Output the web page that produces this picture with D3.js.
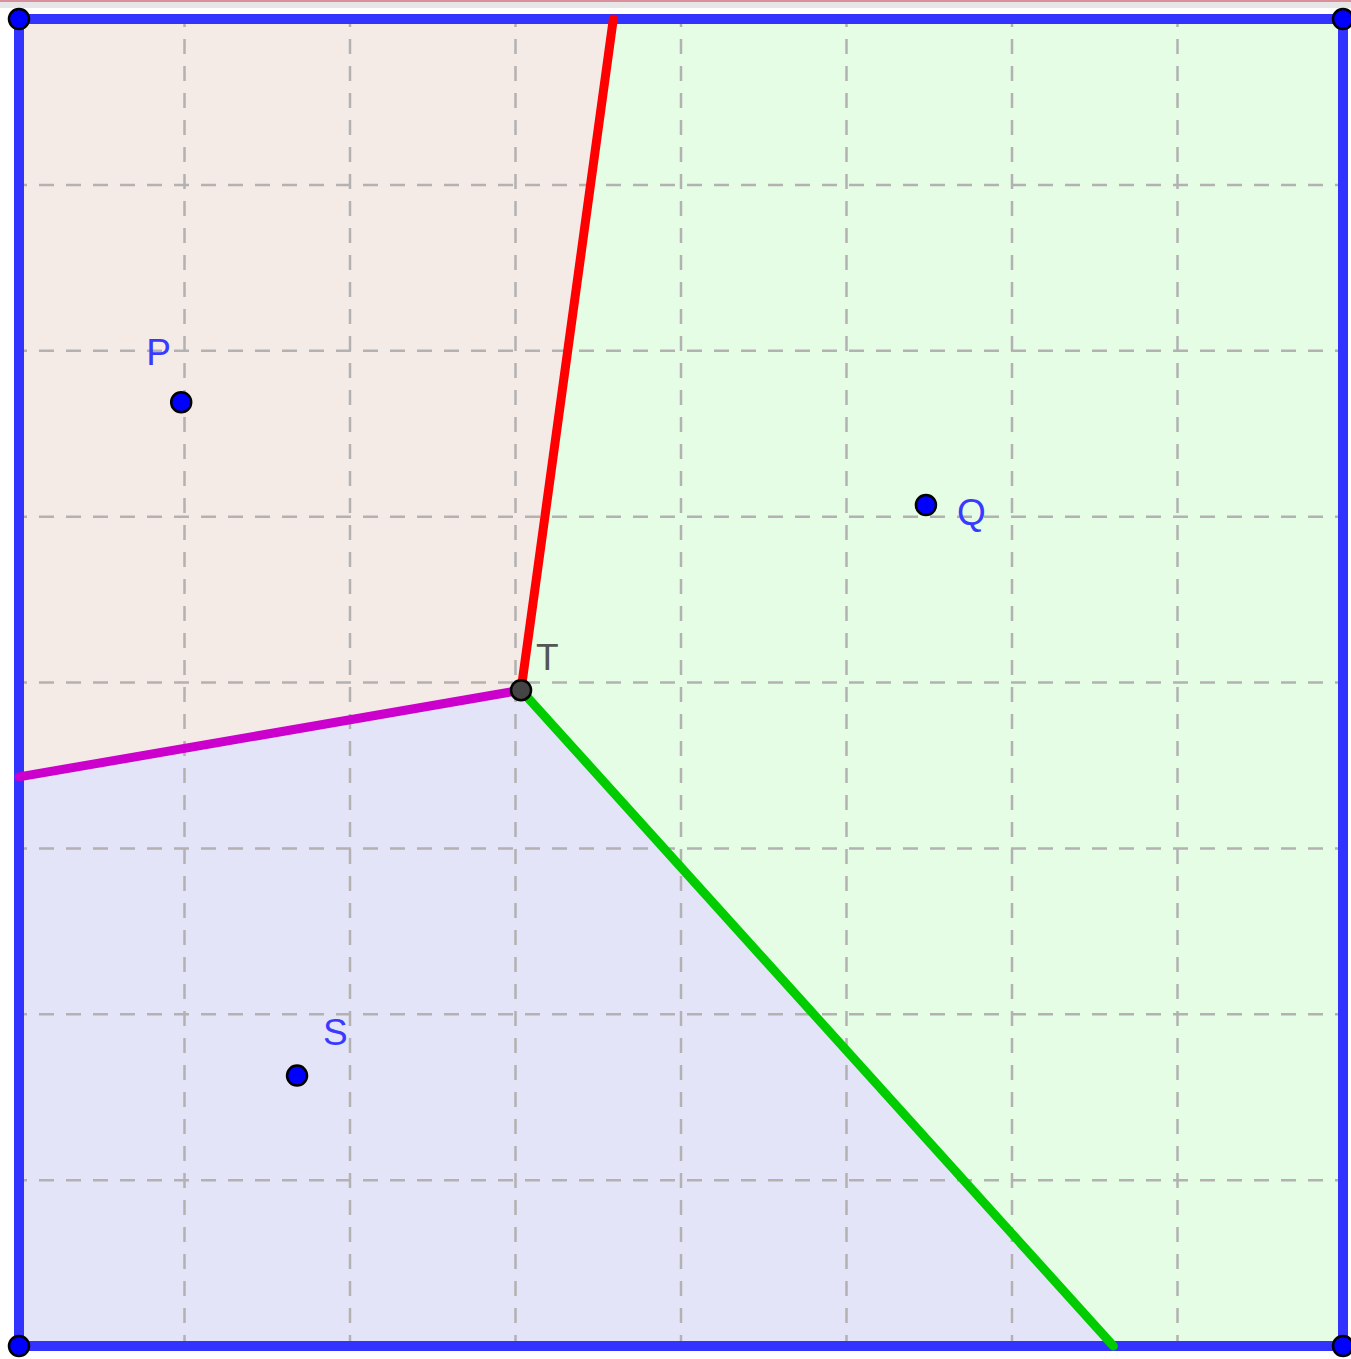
<!DOCTYPE html>
<html>
<head>
<meta charset="utf-8">
<script src="https://cdn.jsdelivr.net/npm/d3@7"></script>
<style>
  html, body { margin: 0; padding: 0; background: #fff; }
  svg { display: block; }
</style>
</head>
<body>
<div id="chart"></div>
<script>
const W = 1351
const H = 1359

// Sites (data units, 0..8 both ways)
const siteNames = ["P", "Q", "S"]
const siteX = [0.98, 5.48, 1.68]
const siteY = [5.69, 5.07, 1.63]
const cellFill = ["#f5ebe6", "#e4fde4", "#e3e4f7"]

// Bounding square and grid
const bounds = [0, 0, 8, 8]
const gridTicks = [1, 2, 3, 4, 5, 6, 7]

// Edge colours by pair of sites
const edgeColor = { "0-1": "#ff0000", "0-2": "#cc00cc", "1-2": "#00cc00" }

const x = d3.scaleLinear().domain([0, 8]).range([19, 1343])
const y = d3.scaleLinear().domain([0, 8]).range([1346, 19])

const svg = d3.select("#chart").append("svg")
  .attr("width", W)
  .attr("height", H)

// window border artifact at the top
svg.append("rect").attr("x", 0).attr("y", 0).attr("width", W).attr("height", 2).attr("fill", "#d9909c")
svg.append("rect").attr("x", 0).attr("y", 2).attr("width", W).attr("height", 6).attr("fill", "#e6e6e6")

const pts = siteX.map((v, i) => [v, siteY[i]])
const delaunay = d3.Delaunay.from(pts)
const voronoi = delaunay.voronoi(bounds)

// --- Cells ---
const cellG = svg.append("g")
pts.forEach((p, i) => {
  const poly = voronoi.cellPolygon(i)
  cellG.append("path")
    .attr("d", "M" + poly.map(q => `${x(q[0])},${y(q[1])}`).join("L") + "Z")
    .attr("fill", cellFill[i])
})

// --- Grid ---
const gridG = svg.append("g")
  .attr("stroke", "#b3b1b1")
  .attr("stroke-width", 2.5)
  .attr("stroke-dasharray", "15 12")
gridTicks.forEach(t => {
  gridG.append("line")
    .attr("x1", x(t)).attr("x2", x(t))
    .attr("y1", y(8)).attr("y2", y(0))
    .attr("stroke-dashoffset", 7)
  gridG.append("line")
    .attr("x1", x(0)).attr("x2", x(8))
    .attr("y1", y(t)).attr("y2", y(t))
    .attr("stroke-dashoffset", 7)
})

// --- Boundary ---
svg.append("rect")
  .attr("x", x(0)).attr("y", y(8))
  .attr("width", x(8) - x(0)).attr("height", y(0) - y(8))
  .attr("fill", "none")
  .attr("stroke", "#3333ff")
  .attr("stroke-width", 10)

// --- Voronoi edges: shared vertices of neighbouring cells ---
const edgeG = svg.append("g")
const near = (a, b) => Math.abs(a[0] - b[0]) < 1e-6 && Math.abs(a[1] - b[1]) < 1e-6
pts.forEach((p, i) => {
  for (const j of voronoi.neighbors(i)) {
    if (j <= i) continue
    const a = voronoi.cellPolygon(i).slice(0, -1)
    const b = voronoi.cellPolygon(j).slice(0, -1)
    const shared = a.filter(q => b.some(r => near(q, r)))
    if (shared.length < 2) continue
    edgeG.append("line")
      .attr("x1", x(shared[0][0])).attr("y1", y(shared[0][1]))
      .attr("x2", x(shared[1][0])).attr("y2", y(shared[1][1]))
      .attr("stroke", edgeColor[`${i}-${j}`])
      .attr("stroke-width", 9)
      .attr("stroke-linecap", "round")
  }
})

// --- Points ---
const dotG = svg.append("g")
const corners = [[0, 0], [8, 0], [0, 8], [8, 8]]
corners.forEach(c => {
  dotG.append("circle")
    .attr("cx", x(c[0])).attr("cy", y(c[1])).attr("r", 10)
    .attr("fill", "#0000ff").attr("stroke", "#000").attr("stroke-width", 2.5)
})
pts.forEach(p => {
  dotG.append("circle")
    .attr("cx", x(p[0])).attr("cy", y(p[1])).attr("r", 10)
    .attr("fill", "#0000ff").attr("stroke", "#000").attr("stroke-width", 2.5)
})

// circumcentre T
const cc = voronoi.circumcenters
dotG.append("circle")
  .attr("cx", x(cc[0])).attr("cy", y(cc[1])).attr("r", 10)
  .attr("fill", "#444").attr("stroke", "#000").attr("stroke-width", 2.5)

// --- Labels ---
const labelOffset = [[-35, -37], [31, 20], [26, -31]]
const labelG = svg.append("g")
  .attr("font-family", "Liberation Sans, Arial, sans-serif")
  .attr("font-size", "37px")
pts.forEach((p, i) => {
  labelG.append("text")
    .attr("x", x(p[0]) + labelOffset[i][0])
    .attr("y", y(p[1]) + labelOffset[i][1])
    .attr("fill", "#3a3aff")
    .text(siteNames[i])
})
labelG.append("text")
  .attr("x", x(cc[0]) + 15)
  .attr("y", y(cc[1]) - 20)
  .attr("fill", "#555")
  .text("T")
</script>
</body>
</html>
